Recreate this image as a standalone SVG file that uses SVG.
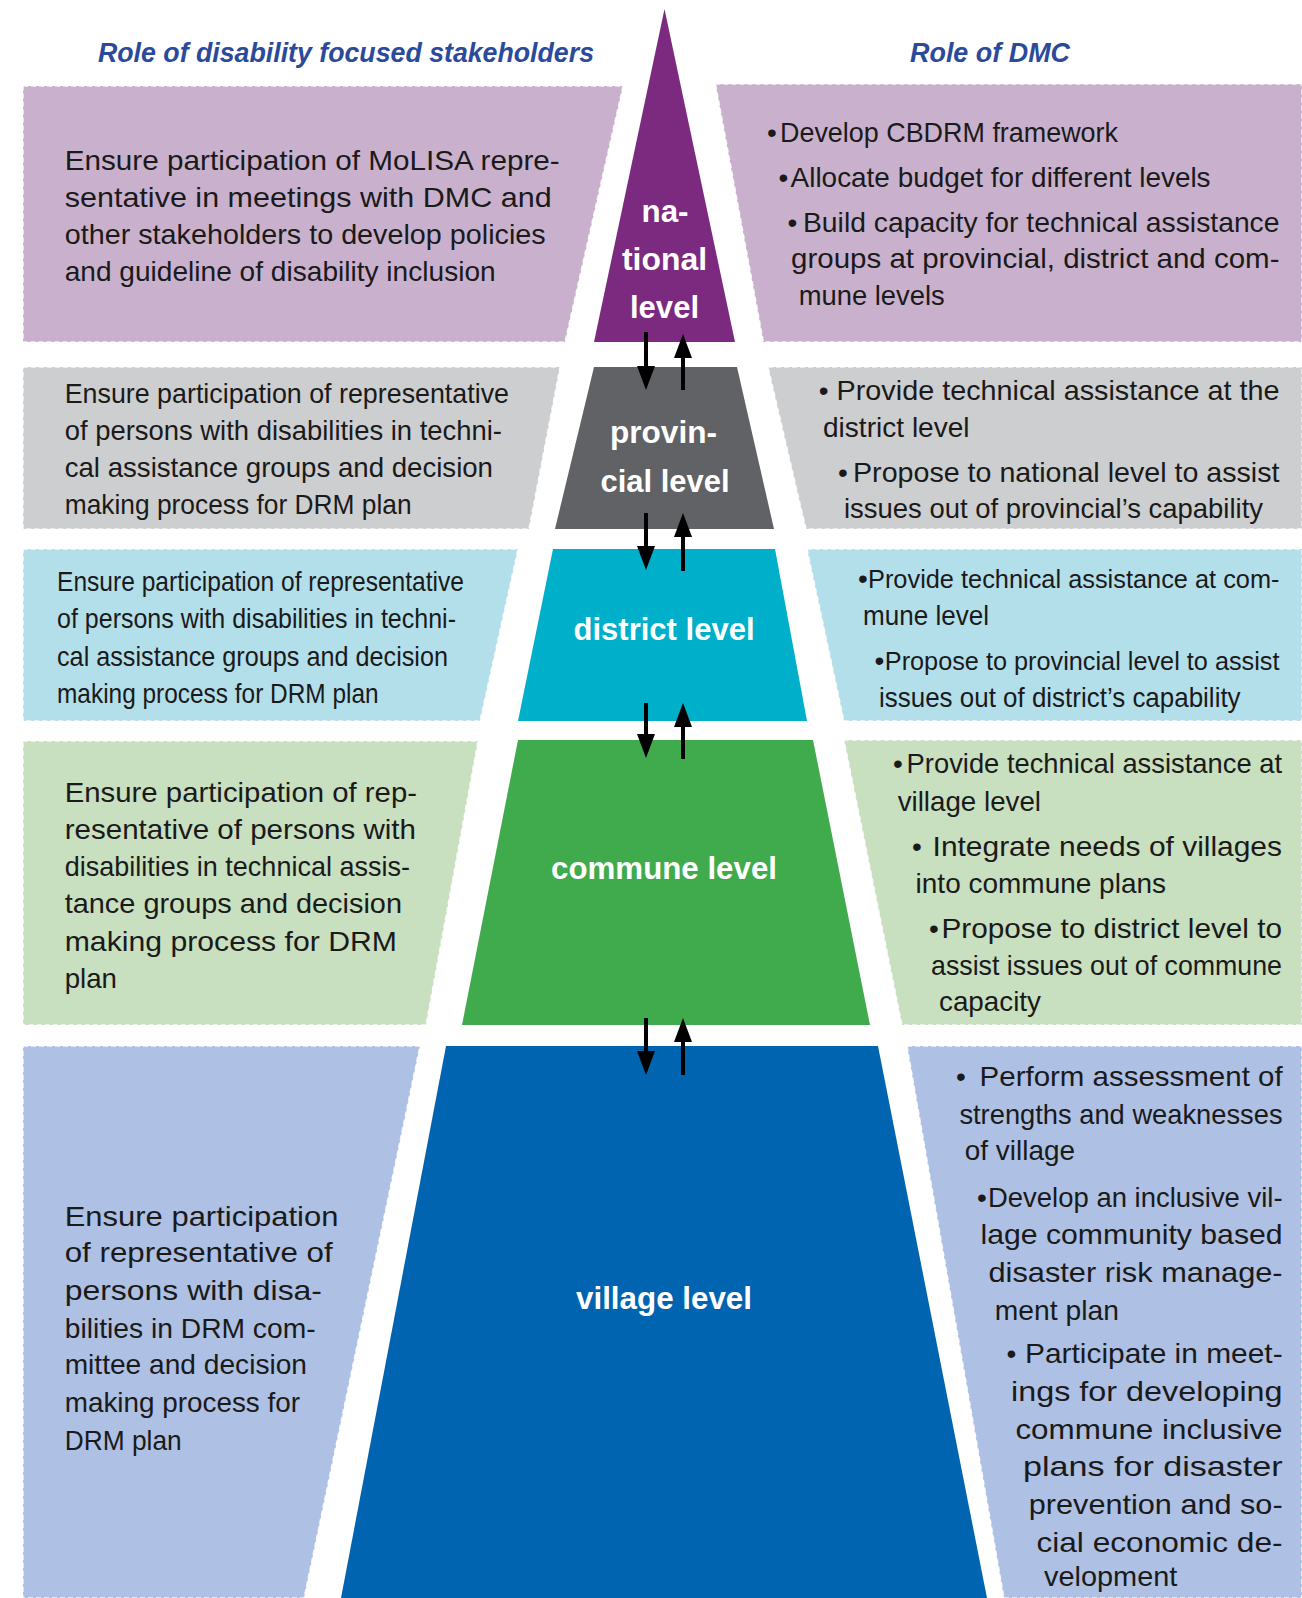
<svg xmlns="http://www.w3.org/2000/svg" width="1302" height="1598" viewBox="0 0 1302 1598">
<defs>
<style>
.t{font-family:"Liberation Sans",Arial,sans-serif;font-size:28px;fill:#1a1a1a}
.c{font-family:"Liberation Sans",Arial,sans-serif;font-size:25.5px;fill:#1a1a1a}
.b{font-family:"Liberation Sans",Arial,sans-serif;font-size:28px;fill:#1a1a1a}
.lbl{font-family:"Liberation Sans",Arial,sans-serif;font-weight:bold;font-size:32px;fill:#ffffff;text-anchor:middle}
.hd{font-family:"Liberation Sans",Arial,sans-serif;font-weight:bold;font-style:italic;font-size:27px;fill:#2b4a9b}
.box{stroke:#ffffff;stroke-width:1.5;stroke-dasharray:5 3;stroke-opacity:0.85}
.arr{stroke:#000000;stroke-width:4;fill:none;marker-end:url(#ah)}
</style>
<marker id="ah" viewBox="0 0 24 18" refX="4" refY="9" markerWidth="24" markerHeight="18" markerUnits="userSpaceOnUse" orient="auto">
<path d="M0,0 L24,9 L0,18 z" fill="#000000"/>
</marker>
</defs>
<rect x="0" y="0" width="1302" height="1598" fill="#ffffff"/>

<g id="headers">
<text class="hd" x="98" y="62" textLength="496" lengthAdjust="spacingAndGlyphs">Role of disability  focused stakeholders</text>
<text class="hd" x="910" y="62" textLength="160" lengthAdjust="spacingAndGlyphs">Role of DMC</text>
</g>

<!-- National -->
<g id="dfs-national">
<polygon class="box" points="23,86 623,86 565,342 23,342" fill="#c9b1cd"/>
<text class="t" x="64.7" y="170" textLength="495" lengthAdjust="spacingAndGlyphs">Ensure participation of MoLISA repre-</text>
<text class="t" x="64.7" y="207" textLength="487" lengthAdjust="spacingAndGlyphs">sentative in meetings with DMC and</text>
<text class="t" x="64.7" y="244" textLength="481" lengthAdjust="spacingAndGlyphs">other stakeholders to develop policies</text>
<text class="t" x="64.7" y="281" textLength="431" lengthAdjust="spacingAndGlyphs">and guideline of disability inclusion</text>
</g>
<g id="level-national">
<polygon points="664.5,9 735,342 594,342" fill="#7b2a80"/>
<text class="lbl" x="665" y="222" textLength="47" lengthAdjust="spacingAndGlyphs">na-</text>
<text class="lbl" x="664.5" y="270" textLength="85" lengthAdjust="spacingAndGlyphs">tional</text>
<text class="lbl" x="664.5" y="318" textLength="69" lengthAdjust="spacingAndGlyphs">level</text>
</g>
<g id="dmc-national">
<polygon class="box" points="715.5,84 1302,84 1302,342 763.4,342" fill="#c9b1cd"/>
<text class="b" x="767" y="142">•</text>
<text class="t" x="780" y="142" textLength="338" lengthAdjust="spacingAndGlyphs">Develop CBDRM framework</text>
<text class="b" x="778.6" y="187">•</text>
<text class="t" x="790.6" y="187" textLength="420" lengthAdjust="spacingAndGlyphs">Allocate budget for different levels</text>
<text class="b" x="787.5" y="232">•</text>
<text class="t" x="803" y="232" textLength="476.5" lengthAdjust="spacingAndGlyphs">Build capacity for technical assistance</text>
<text class="t" x="791" y="268" textLength="488.5" lengthAdjust="spacingAndGlyphs">groups at provincial, district and com-</text>
<text class="t" x="798.7" y="305" textLength="146" lengthAdjust="spacingAndGlyphs">mune levels</text>
</g>

<!-- Provincial -->
<g id="dfs-provincial">
<polygon class="box" points="23,367 560,367 529,529 23,529" fill="#cdcecf"/>
<text class="t" x="64.7" y="403" textLength="444.3" lengthAdjust="spacingAndGlyphs">Ensure participation of representative</text>
<text class="t" x="64.7" y="440" textLength="437.3" lengthAdjust="spacingAndGlyphs">of persons with disabilities in techni-</text>
<text class="t" x="64.7" y="477" textLength="428.3" lengthAdjust="spacingAndGlyphs">cal assistance groups and decision</text>
<text class="t" x="64.7" y="514" textLength="347" lengthAdjust="spacingAndGlyphs">making process for DRM plan</text>
</g>
<g id="level-provincial">
<polygon points="594,367 737,367 774,529 555,529" fill="#616265"/>
<text class="lbl" x="663.5" y="443" textLength="107" lengthAdjust="spacingAndGlyphs">provin-</text>
<text class="lbl" x="665" y="492" textLength="129" lengthAdjust="spacingAndGlyphs">cial level</text>
</g>
<g id="dmc-provincial">
<polygon class="box" points="768,367 1302,367 1302,529 806,529" fill="#cdcecf"/>
<text class="b" x="818.7" y="400">•</text>
<text class="t" x="836.6" y="400" textLength="443" lengthAdjust="spacingAndGlyphs">Provide technical assistance at the</text>
<text class="t" x="823" y="437" textLength="146.6" lengthAdjust="spacingAndGlyphs">district level</text>
<text class="b" x="838" y="482">•</text>
<text class="t" x="853" y="482" textLength="426.5" lengthAdjust="spacingAndGlyphs">Propose to national level to assist</text>
<text class="t" x="844" y="518" textLength="419" lengthAdjust="spacingAndGlyphs">issues out of provincial’s capability</text>
</g>

<!-- District -->
<g id="dfs-district">
<polygon class="box" points="23,549 518,549 480,721 23,721" fill="#b3dfea"/>
<text class="t" x="57" y="591" textLength="407" lengthAdjust="spacingAndGlyphs">Ensure participation of representative</text>
<text class="t" x="57" y="628" textLength="399" lengthAdjust="spacingAndGlyphs">of persons with disabilities in techni-</text>
<text class="t" x="57" y="666" textLength="391" lengthAdjust="spacingAndGlyphs">cal assistance groups and decision</text>
<text class="t" x="57" y="703" textLength="321.6" lengthAdjust="spacingAndGlyphs">making process for DRM plan</text>
</g>
<g id="level-district">
<polygon points="553,549 775,549 807,721 518,721" fill="#00afc9"/>
<text class="lbl" x="664" y="640" textLength="181" lengthAdjust="spacingAndGlyphs">district level</text>
</g>
<g id="dmc-district">
<polygon class="box" points="807,549 1302,549 1302,721 844,721" fill="#b3dfea"/>
<text class="b" x="858" y="588">•</text>
<text class="c" x="868" y="588" textLength="411.5" lengthAdjust="spacingAndGlyphs">Provide technical assistance at com-</text>
<text class="t" x="863" y="625" textLength="126" lengthAdjust="spacingAndGlyphs">mune level</text>
<text class="b" x="874.5" y="670">•</text>
<text class="c" x="884.8" y="670" textLength="394.7" lengthAdjust="spacingAndGlyphs">Propose to provincial level to assist</text>
<text class="t" x="879" y="707" textLength="361.6" lengthAdjust="spacingAndGlyphs">issues out of district’s capability</text>
</g>

<!-- Commune -->
<g id="dfs-commune">
<polygon class="box" points="23,741 478,741 426,1025 23,1025" fill="#c8dfc0"/>
<text class="t" x="64.7" y="802" textLength="352.3" lengthAdjust="spacingAndGlyphs">Ensure participation of rep-</text>
<text class="t" x="64.7" y="839" textLength="351.3" lengthAdjust="spacingAndGlyphs">resentative of persons with</text>
<text class="t" x="64.7" y="876" textLength="345.3" lengthAdjust="spacingAndGlyphs">disabilities in technical assis-</text>
<text class="t" x="64.7" y="913" textLength="337.3" lengthAdjust="spacingAndGlyphs">tance groups and decision</text>
<text class="t" x="64.7" y="951" textLength="332.3" lengthAdjust="spacingAndGlyphs">making process for DRM</text>
<text class="t" x="64.7" y="988" textLength="52.3" lengthAdjust="spacingAndGlyphs">plan</text>
</g>
<g id="level-commune">
<polygon points="518,740 813,740 870,1025 462,1025" fill="#40ab4c"/>
<text class="lbl" x="664" y="879" textLength="226" lengthAdjust="spacingAndGlyphs">commune level</text>
</g>
<g id="dmc-commune">
<polygon class="box" points="844,740 1302,740 1302,1025 902,1025" fill="#c8dfc0"/>
<text class="b" x="893" y="773">•</text>
<text class="t" x="906.6" y="773" textLength="375.4" lengthAdjust="spacingAndGlyphs">Provide technical assistance at</text>
<text class="t" x="897.7" y="811" textLength="143.3" lengthAdjust="spacingAndGlyphs">village level</text>
<text class="b" x="912" y="856">•</text>
<text class="t" x="932.6" y="856" textLength="349.4" lengthAdjust="spacingAndGlyphs">Integrate needs of villages</text>
<text class="t" x="915.6" y="893" textLength="250.4" lengthAdjust="spacingAndGlyphs">into commune plans</text>
<text class="b" x="929" y="938">•</text>
<text class="t" x="941.5" y="938" textLength="340.5" lengthAdjust="spacingAndGlyphs">Propose to district level to</text>
<text class="t" x="931" y="975" textLength="351" lengthAdjust="spacingAndGlyphs">assist issues out of commune</text>
<text class="t" x="939" y="1011" textLength="102" lengthAdjust="spacingAndGlyphs">capacity</text>
</g>

<!-- Village -->
<g id="dfs-village">
<polygon class="box" points="23,1046 420,1046 304,1598 23,1598" fill="#aec0e3"/>
<text class="t" x="64.7" y="1226" textLength="273.7" lengthAdjust="spacingAndGlyphs">Ensure participation</text>
<text class="t" x="64.7" y="1262" textLength="267.9" lengthAdjust="spacingAndGlyphs">of representative of</text>
<text class="t" x="64.7" y="1300" textLength="257.3" lengthAdjust="spacingAndGlyphs">persons with disa-</text>
<text class="t" x="64.7" y="1338" textLength="250.9" lengthAdjust="spacingAndGlyphs">bilities in DRM com-</text>
<text class="t" x="64.7" y="1374" textLength="242.3" lengthAdjust="spacingAndGlyphs">mittee and decision</text>
<text class="t" x="64.7" y="1412" textLength="235.3" lengthAdjust="spacingAndGlyphs">making process for</text>
<text class="t" x="64.7" y="1450" textLength="117" lengthAdjust="spacingAndGlyphs">DRM plan</text>
</g>
<g id="level-village">
<polygon points="446,1046 878,1046 987,1598 341,1598" fill="#0064b0"/>
<text class="lbl" x="664" y="1309" textLength="176" lengthAdjust="spacingAndGlyphs">village level</text>
</g>
<g id="dmc-village">
<polygon class="box" points="907,1046 1302,1046 1302,1598 1004,1598" fill="#aec0e3"/>
<text class="b" x="956" y="1086">•</text>
<text class="t" x="979.6" y="1086" textLength="303" lengthAdjust="spacingAndGlyphs">Perform assessment of</text>
<text class="t" x="959.4" y="1124" textLength="323.2" lengthAdjust="spacingAndGlyphs">strengths and weaknesses</text>
<text class="t" x="964.8" y="1160" textLength="110.2" lengthAdjust="spacingAndGlyphs">of village</text>
<text class="b" x="977" y="1207">•</text>
<text class="t" x="988" y="1207" textLength="294.6" lengthAdjust="spacingAndGlyphs">Develop an inclusive vil-</text>
<text class="t" x="980.5" y="1244" textLength="302.1" lengthAdjust="spacingAndGlyphs">lage community based</text>
<text class="t" x="988.5" y="1282" textLength="294.1" lengthAdjust="spacingAndGlyphs">disaster risk manage-</text>
<text class="t" x="994.8" y="1320" textLength="124.2" lengthAdjust="spacingAndGlyphs">ment plan</text>
<text class="b" x="1006.4" y="1363">•</text>
<text class="t" x="1025" y="1363" textLength="257.6" lengthAdjust="spacingAndGlyphs">Participate in meet-</text>
<text class="t" x="1011" y="1401" textLength="271.6" lengthAdjust="spacingAndGlyphs">ings for developing</text>
<text class="t" x="1015.4" y="1439" textLength="267.2" lengthAdjust="spacingAndGlyphs">commune inclusive</text>
<text class="t" x="1023" y="1476" textLength="259.6" lengthAdjust="spacingAndGlyphs">plans for disaster</text>
<text class="t" x="1028.8" y="1514" textLength="253.8" lengthAdjust="spacingAndGlyphs">prevention and so-</text>
<text class="t" x="1036.4" y="1552" textLength="246.2" lengthAdjust="spacingAndGlyphs">cial economic de-</text>
<text class="t" x="1044" y="1586" textLength="133.4" lengthAdjust="spacingAndGlyphs">velopment</text>
</g>

<g id="connectors">
<line class="arr" x1="646" y1="332" x2="646" y2="370"/>
<line class="arr" x1="683" y1="390" x2="683" y2="354"/>
<line class="arr" x1="646" y1="513" x2="646" y2="550"/>
<line class="arr" x1="683" y1="571" x2="683" y2="533"/>
<line class="arr" x1="646" y1="703" x2="646" y2="738"/>
<line class="arr" x1="683" y1="759" x2="683" y2="723"/>
<line class="arr" x1="646" y1="1018" x2="646" y2="1055"/>
<line class="arr" x1="683" y1="1075" x2="683" y2="1038"/>
</g>
</svg>
